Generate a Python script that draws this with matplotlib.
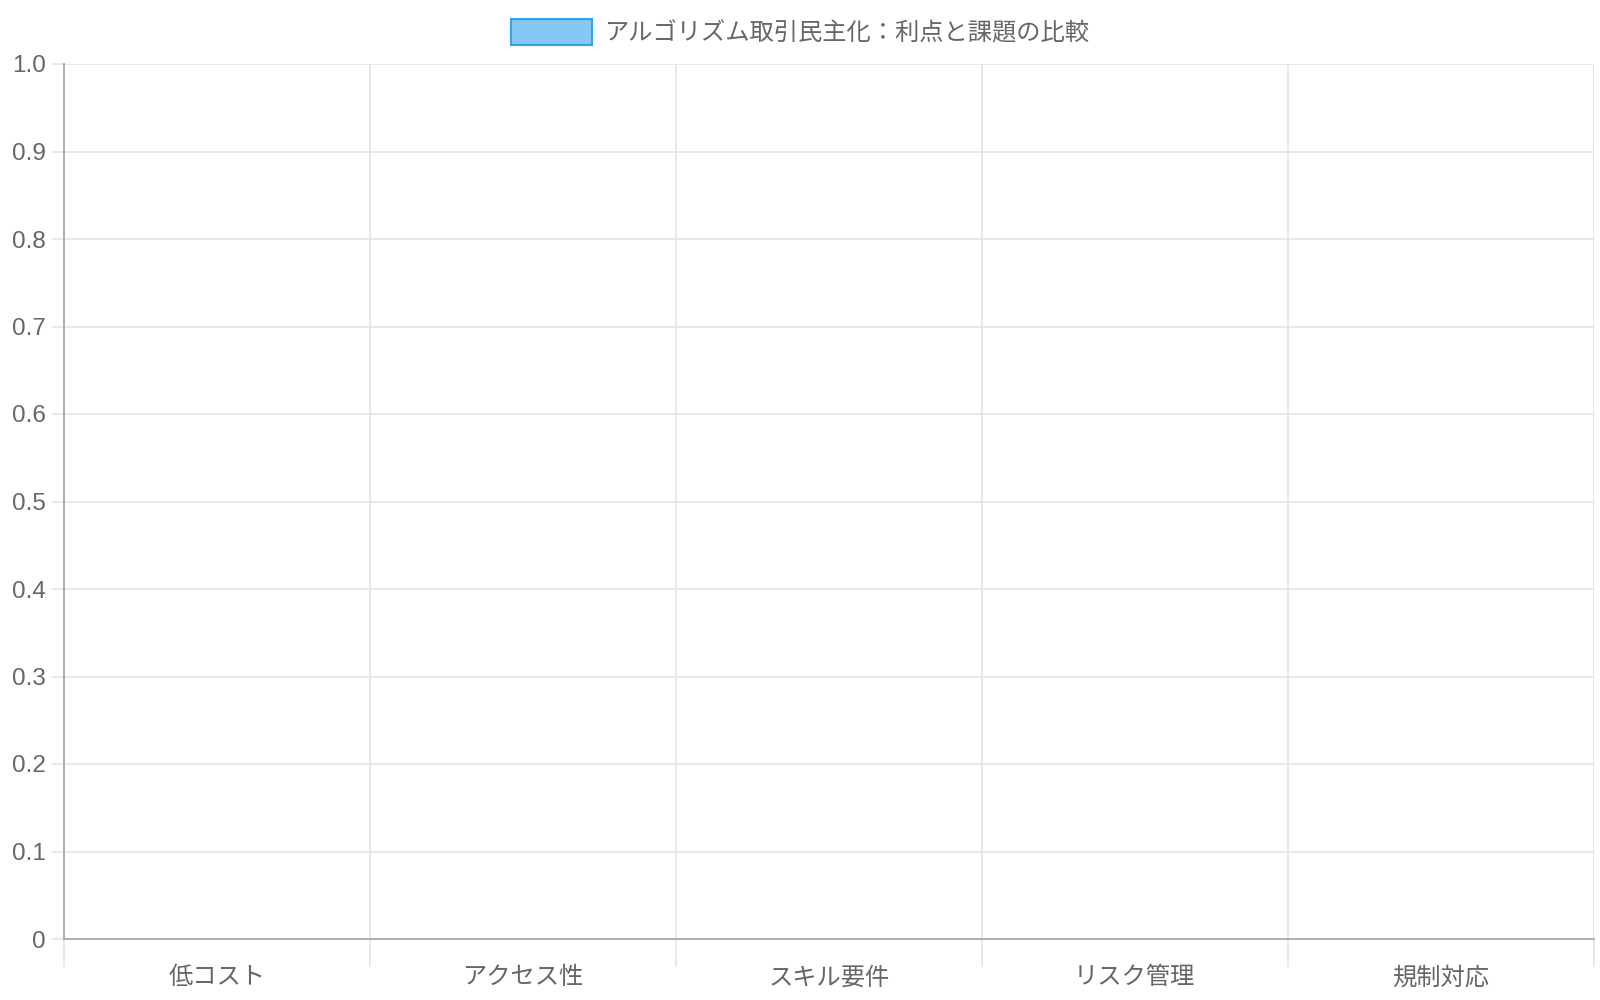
import matplotlib.pyplot as plt
from matplotlib.patches import Patch

plt.rcParams['font.family'] = ['Liberation Sans', 'Noto Sans CJK JP', 'DejaVu Sans']

# data
categories = ["低コスト", "アクセス性", "スキル要件", "リスク管理", "規制対応"]
values = [0, 0, 0, 0, 0]
series_label = "アルゴリズム取引民主化：利点と課題の比較"
y_ticks = [0, 0.1, 0.2, 0.3, 0.4, 0.5, 0.6, 0.7, 0.8, 0.9, 1.0]
y_tick_labels = ["0", "0.1", "0.2", "0.3", "0.4", "0.5", "0.6", "0.7", "0.8", "0.9", "1.0"]

fill = (54/255, 162/255, 235/255, 0.6)
edge = "#36a2eb"
grid_c = "#e4e4e4"
axis_c = "#a8a8a8"
text_c = "#666666"

fig = plt.figure(figsize=(16, 10), dpi=100)
ax = fig.add_axes([0.04, 0.061, 0.956, 0.875])

n = len(categories)
xs = [i + 0.5 for i in range(n)]
# zero-height bars: nothing visible, like the original
ax.bar(xs, values, width=0.8, color=fill, edgecolor=edge, linewidth=0)

ax.set_xlim(0, n)
ax.set_ylim(0, 1.0)

# grid lines
for y in y_ticks[1:]:
    ax.axhline(y, color=grid_c, lw=1.2, zorder=0)
for i in range(1, n + 1):
    ax.axvline(i, color=grid_c, lw=1.2, zorder=0)

for s in ["top", "right"]:
    ax.spines[s].set_visible(False)
ax.spines["left"].set_color(axis_c)
ax.spines["bottom"].set_color(axis_c)
ax.spines["left"].set_linewidth(1.3)
ax.spines["bottom"].set_linewidth(1.3)

ax.set_yticks(y_ticks)
ax.set_yticklabels(y_tick_labels)
ax.tick_params(axis="y", length=9, color=grid_c, width=1.2, labelsize=17.5,
               labelcolor=text_c, pad=4)

# x grid ticks at category boundaries, labels at centers
ax.set_xticks(range(0, n + 1))
ax.set_xticklabels([""] * (n + 1))
ax.tick_params(axis="x", which="major", length=20, color=grid_c, width=1.2)
ax.set_xticks(xs, minor=True)
ax.set_xticklabels(categories, minor=True)
ax.tick_params(axis="x", which="minor", length=0, labelsize=17.5,
               labelcolor=text_c, pad=20)

handle = Patch(facecolor=fill, edgecolor=edge, linewidth=1.5)
fig.legend([handle], [series_label], loc="center", bbox_to_anchor=(0.5, 0.968),
           frameon=False, fontsize=17.5, labelcolor=text_c,
           handlelength=3.3, handleheight=1.3, handletextpad=0.5)

fig.savefig("out.png", dpi=100, facecolor="white")
